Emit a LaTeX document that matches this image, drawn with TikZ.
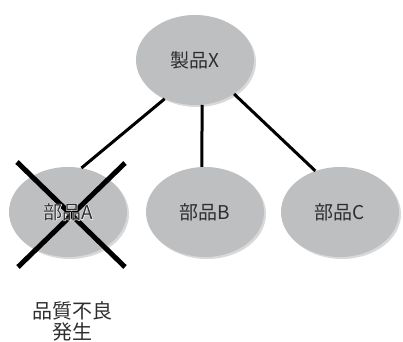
\documentclass[tikz,border=0pt]{standalone}
\usepackage{fontspec}
\setmainfont{Noto Sans CJK JP}
\newfontfamily\halofont[FakeBold=4]{Noto Sans CJK JP}
\usetikzlibrary{shadows,calc,shapes.geometric}
\definecolor{partfill}{HTML}{BEBFC1}
\definecolor{txt}{HTML}{2E2E2E}
\tikzset{
  part/.style={ellipse, fill=partfill, minimum width=118pt, minimum height=90pt, inner sep=0pt,
    text=txt, font=\fontsize{19}{22}\selectfont,
    drop shadow={shadow xshift=2pt, shadow yshift=-2pt, opacity=0.25, fill=black!60}},
  link/.style={line width=3pt, draw=black},
  crossline/.style={line width=5pt, draw=black},
  halo/.style={text=white, font=\halofont\fontsize{19}{22}\selectfont, inner sep=0pt},
  plainlabel/.style={text=txt, font=\fontsize{19}{22}\selectfont, inner sep=0pt},
  note/.style={text=txt, font=\fontsize{20}{21}\selectfont, align=center, inner sep=0pt}
}
\begin{document}
\begin{tikzpicture}[x=1pt,y=1pt]
\useasboundingbox (0,0) rectangle (403,341);
\node[part] (X) at (195,281) {製品X};
\node[part] (A) at (68,129) {};
\node[part] (B) at (205,129) {部品B};
\node[part] (C) at (340,129) {部品C};
\draw[link] (X.-128) -- (A.73);
\draw[link] (X.-81) -- (B.94);
\draw[link] (X.-41) -- (C.121);
\coordinate (c1a) at (17,179);
\coordinate (c1b) at (125,74);
\coordinate (c2a) at (125,178);
\coordinate (c2b) at (18,74);
\draw[crossline] (c1a) -- (c1b);
\draw[crossline] (c2a) -- (c2b);
\node[halo] (Ahalo) at (A) {部品A};
\node[plainlabel] (Alabel) at (A) {部品A};
\node[note] (N) at (72,20) {品質不良\\発生};
\end{tikzpicture}
\end{document}
